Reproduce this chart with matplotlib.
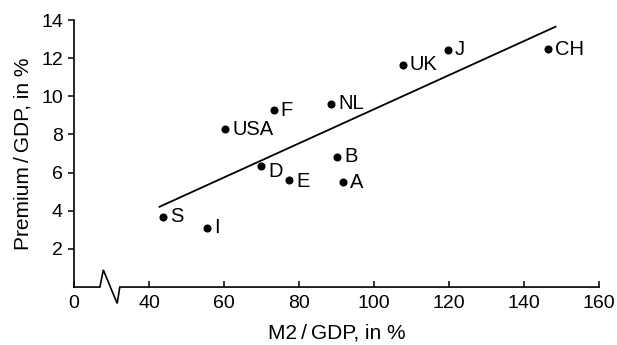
import numpy as np
import matplotlib
matplotlib.use("Agg")
import matplotlib.pyplot as plt

plt.rcParams['font.family'] = ['Liberation Sans', 'DejaVu Sans']

# Datos
paises = ["S", "I", "USA", "F", "D", "E", "NL", "B", "A", "UK", "J", "CH"]
m2_gdp = [43.8, 55.4, 60.3, 73.2, 69.9, 77.4, 88.6, 90.2, 91.7, 107.6, 119.6, 146.4]
premium_gdp = [3.68, 3.1, 8.26, 9.28, 6.33, 5.63, 9.61, 6.82, 5.49, 11.65, 12.44, 12.47]

# Recta de tendencia (extremos)
tendencia_x = [42.8, 148.4]
tendencia_y = [4.21, 13.65]

xticks = [20, 40, 60, 80, 100, 120, 140, 160]
xticklabels = ["0", "40", "60", "80", "100", "120", "140", "160"]
yticks = [2, 4, 6, 8, 10, 12, 14]

fig = plt.figure(figsize=(6.17, 3.45), dpi=100)
ax = fig.add_axes([0.12, 0.168, 0.851, 0.774])

ax.plot(tendencia_x, tendencia_y, color="black", lw=1.3)
ax.plot(m2_gdp, premium_gdp, "o", color="black", ms=4.8)

desplaz = {"D": (5, -4), "E": (5, -1.5)}
for p, x, y in zip(paises, m2_gdp, premium_gdp):
    dx, dy = desplaz.get(p, (5, 0))
    ax.annotate(p, (x, y), xytext=(dx, dy), textcoords="offset points",
                ha="left", va="center", fontsize=14.5)

ax.set_xlim(20, 160)
ax.set_ylim(0, 14)
ax.set_xticks(xticks)
ax.set_xticklabels(xticklabels)
ax.set_yticks(yticks)

for s in ["top", "right", "bottom"]:
    ax.spines[s].set_visible(False)
ax.spines["left"].set_linewidth(1.2)

ax.tick_params(axis="x", direction="in", length=4, width=1.1, labelsize=14, pad=6)
ax.tick_params(axis="y", direction="out", length=4, width=1.1, labelsize=14, pad=4)

# eje x con corte
bx = [20, 26.9, 27.8, 31.5, 32.2, 160]
by = [0, 0, 0.9, -0.86, 0, 0]
ax.plot(bx, by, color="black", lw=1.2, clip_on=False, solid_joinstyle="miter")

ax.set_xlabel("M2\u2009/\u2009GDP, in %", fontsize=15, labelpad=8)
ax.set_ylabel("Premium\u2009/\u2009GDP, in %", fontsize=15, labelpad=6)

plt.savefig("out.png", dpi=100)
